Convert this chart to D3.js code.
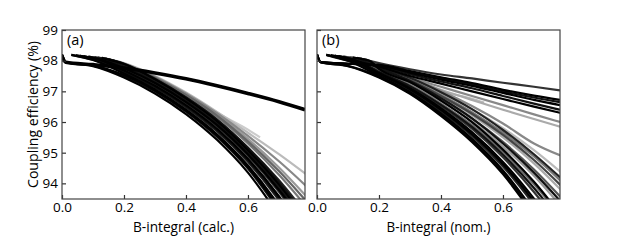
<!DOCTYPE html>
<html>
<head>
<meta charset="utf-8">
<script src="https://cdn.jsdelivr.net/npm/d3@7"></script>
<style>
  body { margin: 0; background: #fff; }
  svg { display: block; }
  text { font-family: "Open Sans", sans-serif; fill: #000; }
</style>
</head>
<body>
<svg id="chart" width="623" height="249"></svg>
<script>
// axis settings
const xTicks = [0.0, 0.2, 0.4, 0.6];
const yTicks = [94, 95, 96, 97, 98, 99];
const xDomain = [0, 0.784];
const yDomain = [93.49, 99];
const panelNames = ["(a)", "(b)"];
const xTitles = ["B-integral (calc.)", "B-integral (nom.)"];
const yTitle = "Coupling efficiency (%)";

// panel (a): bundle of curves [B, efficiency]
const curvesA = [
  [[0,98.2],[0.012,97.95],[0.1,97.82],[0.2,97.45],[0.3,96.93],[0.4,96.26],[0.5,95.42],[0.6,94.35],[0.7,92.95]],
  [[0,98.2],[0.012,97.95],[0.1,97.84],[0.2,97.5],[0.3,97.0],[0.4,96.34],[0.5,95.52],[0.6,94.48],[0.7,93.12]],
  [[0,98.2],[0.012,97.95],[0.1,97.85],[0.2,97.53],[0.3,97.03],[0.4,96.37],[0.5,95.56],[0.6,94.53],[0.7,93.2]],
  [[0.03,98.19],[0.1,98.02],[0.2,97.58],[0.3,97.06],[0.4,96.4],[0.5,95.6],[0.6,94.58],[0.7,93.28],[0.8,91.7]],
  [[0.03,98.19],[0.1,98.03],[0.2,97.62],[0.3,97.12],[0.4,96.48],[0.5,95.7],[0.6,94.7],[0.7,93.45],[0.8,91.95]],
  [[0.045,98.18],[0.11,98.03],[0.2,97.65],[0.3,97.15],[0.4,96.52],[0.5,95.74],[0.6,94.75],[0.7,93.52],[0.8,92.02]],
  [[0.058,98.16],[0.12,98.03],[0.2,97.68],[0.3,97.18],[0.4,96.55],[0.5,95.78],[0.6,94.8],[0.7,93.58],[0.8,92.1]],
  [[0.058,98.16],[0.12,98.03],[0.2,97.72],[0.3,97.24],[0.4,96.62],[0.5,95.86],[0.6,94.9],[0.7,93.72],[0.8,92.3]],
  [[0.07,98.14],[0.13,98.02],[0.2,97.75],[0.3,97.27],[0.4,96.65],[0.5,95.9],[0.6,94.94],[0.7,93.78],[0.8,92.4]],
  [[0.085,98.13],[0.14,98.02],[0.2,97.8],[0.3,97.3],[0.4,96.68],[0.5,95.93],[0.6,94.98],[0.7,93.83],[0.8,92.45]],
  [[0.085,98.13],[0.14,98.02],[0.2,97.82],[0.3,97.34],[0.4,96.74],[0.5,96.01],[0.6,95.08],[0.7,93.97],[0.8,92.65]],
  [[0.095,98.12],[0.15,98.0],[0.2,97.84],[0.3,97.36],[0.4,96.76],[0.5,96.04],[0.6,95.12],[0.7,94.04],[0.8,92.75]],
  [[0.105,98.11],[0.16,98.0],[0.2,97.86],[0.3,97.38],[0.4,96.79],[0.5,96.08],[0.6,95.17],[0.7,94.1],[0.8,92.85]],
  [[0.105,98.11],[0.16,98.0],[0.2,97.88],[0.3,97.42],[0.4,96.85],[0.5,96.17],[0.6,95.3],[0.7,94.28],[0.8,93.1]],
  [[0.115,98.1],[0.17,97.99],[0.2,97.89],[0.3,97.44],[0.4,96.88],[0.5,96.21],[0.6,95.37],[0.7,94.4],[0.8,93.28]],
  [[0.115,98.1],[0.17,97.99],[0.2,97.87],[0.3,97.36],[0.4,96.73],[0.5,95.98],[0.6,95.02],[0.7,93.88],[0.8,92.52]],
  [[0.128,98.09],[0.2,97.9],[0.3,97.46],[0.4,96.9],[0.5,96.25],[0.6,95.45],[0.7,94.52],[0.8,93.45]],
  [[0.128,98.09],[0.2,97.91],[0.3,97.48],[0.4,96.93],[0.5,96.29],[0.6,95.55],[0.7,94.72],[0.8,93.8]],
  [[0.128,98.09],[0.2,97.92],[0.3,97.5],[0.4,96.96],[0.5,96.33],[0.6,95.65],[0.7,94.95],[0.8,94.2]],
  [[0.128,98.09],[0.2,97.89],[0.3,97.39],[0.4,96.77],[0.5,96.03],[0.6,95.08],[0.7,93.96],[0.8,92.62]],
  [[0.14,98.07],[0.2,97.9],[0.3,97.47],[0.4,96.93],[0.5,96.3],[0.6,95.75],[0.639,95.5]],
  [[0.14,98.07],[0.2,97.9],[0.3,97.41],[0.4,96.8],[0.5,96.07],[0.6,95.14],[0.7,94.04],[0.8,92.72]]
];
const shadesA = ["#000","#111","#000","#000","#222","#111","#000","#333","#000","#111","#555","#444",
                 "#222","#777","#666","#222","#999","#888","#bbb","#000","#ccc","#111"];
const thickA = [[0,98.15],[0.012,97.95],[0.1,97.87],[0.2,97.76],[0.3,97.6],[0.4,97.41],[0.5,97.18],[0.6,96.93],[0.7,96.66],[0.784,96.4]];

// panel (b): lower group + upper group
const curvesB = [
  // lower group
  [[0,98.2],[0.012,97.95],[0.1,97.82],[0.2,97.45],[0.3,96.92],[0.4,96.2],[0.5,95.35],[0.6,94.3],[0.7,92.95]],
  [[0,98.2],[0.012,97.95],[0.1,97.83],[0.2,97.48],[0.3,96.95],[0.4,96.24],[0.5,95.4],[0.6,94.36],[0.7,93.02]],
  [[0.03,98.19],[0.1,98.0],[0.2,97.5],[0.3,96.98],[0.4,96.28],[0.5,95.45],[0.6,94.42],[0.7,93.1]],
  [[0.03,98.19],[0.1,98.02],[0.2,97.55],[0.3,97.04],[0.4,96.35],[0.5,95.55],[0.6,94.55],[0.7,93.3],[0.8,91.8]],
  [[0.045,98.18],[0.11,98.02],[0.2,97.57],[0.3,97.07],[0.4,96.4],[0.5,95.6],[0.6,94.62],[0.7,93.4],[0.8,91.95]],
  [[0.058,98.16],[0.12,98.02],[0.2,97.6],[0.3,97.1],[0.4,96.45],[0.5,95.67],[0.6,94.7],[0.7,93.5],[0.8,92.1]],
  [[0.058,98.16],[0.12,98.02],[0.2,97.62],[0.3,97.14],[0.4,96.52],[0.5,95.78],[0.6,94.85],[0.7,93.72],[0.8,92.4]],
  [[0.07,98.15],[0.13,98.01],[0.2,97.63],[0.3,97.17],[0.4,96.56],[0.5,95.84],[0.6,94.93],[0.7,93.85],[0.8,92.58]],
  [[0.085,98.13],[0.14,98.01],[0.2,97.65],[0.3,97.2],[0.4,96.6],[0.5,95.9],[0.6,95.02],[0.7,93.98],[0.8,92.75]],
  [[0.085,98.13],[0.14,98.01],[0.2,97.68],[0.3,97.25],[0.4,96.68],[0.5,96.02],[0.6,95.2],[0.7,94.25],[0.8,93.1]],
  [[0.105,98.11],[0.16,98.0],[0.2,97.7],[0.3,97.3],[0.4,96.76],[0.5,96.12],[0.6,95.35],[0.7,94.45],[0.8,93.4]],
  [[0.105,98.11],[0.16,98.0],[0.2,97.72],[0.3,97.33],[0.4,96.82],[0.5,96.22],[0.6,95.5],[0.7,94.65],[0.8,93.65]],
  [[0.115,98.1],[0.17,97.99],[0.2,97.74],[0.3,97.36],[0.4,96.85],[0.5,96.27],[0.6,95.58],[0.7,94.76],[0.8,93.8]],
  [[0.115,98.1],[0.17,97.99],[0.2,97.73],[0.3,97.3],[0.4,96.7],[0.5,96.0],[0.6,95.1],[0.7,94.05],[0.8,92.8]],
  [[0.128,98.09],[0.2,97.75],[0.3,97.38],[0.4,96.88],[0.5,96.32],[0.6,95.65],[0.7,94.88],[0.8,93.95]],
  [[0.128,98.09],[0.2,97.78],[0.3,97.42],[0.4,96.95],[0.5,96.42],[0.6,95.8],[0.7,95.08],[0.8,94.25]],
  [[0.128,98.09],[0.2,97.76],[0.3,97.34],[0.4,96.78],[0.5,96.12],[0.6,95.3],[0.7,94.35],[0.8,93.25]],
  [[0.14,98.07],[0.2,97.8],[0.3,97.46],[0.4,97.02],[0.5,96.52],[0.6,95.95],[0.7,95.3],[0.8,94.85]],
  [[0.14,98.07],[0.2,97.79],[0.3,97.44],[0.4,96.97],[0.5,96.42],[0.6,95.74],[0.7,94.95],[0.8,94.05]],
  // upper group
  [[0.128,98.09],[0.2,97.92],[0.3,97.72],[0.4,97.55],[0.5,97.42],[0.6,97.28],[0.7,97.15],[0.784,97.03]],
  [[0,98.2],[0.012,97.95],[0.1,97.9],[0.2,97.86],[0.3,97.66],[0.4,97.46],[0.5,97.27],[0.6,97.05],[0.7,96.86],[0.784,96.72]],
  [[0,98.2],[0.012,97.95],[0.1,97.9],[0.2,97.85],[0.3,97.64],[0.4,97.42],[0.5,97.22],[0.6,97.0],[0.7,96.8],[0.784,96.65]],
  [[0,98.2],[0.012,97.95],[0.1,97.9],[0.2,97.84],[0.3,97.61],[0.4,97.38],[0.5,97.18],[0.6,96.95],[0.7,96.72],[0.784,96.55]],
  [[0.03,98.19],[0.1,98.0],[0.2,97.82],[0.3,97.56],[0.4,97.32],[0.5,97.1],[0.6,96.85],[0.7,96.6],[0.784,96.4]],
  [[0.058,98.16],[0.12,98.0],[0.2,97.8],[0.3,97.5],[0.4,97.25],[0.5,97.0],[0.6,96.75],[0.7,96.5],[0.784,96.3]],
  [[0.085,98.13],[0.14,98.0],[0.2,97.78],[0.3,97.45],[0.4,97.15],[0.5,96.85],[0.6,96.55],[0.7,96.25],[0.784,96.0]],
  [[0.105,98.11],[0.16,97.98],[0.2,97.75],[0.3,97.4],[0.4,97.05],[0.5,96.72],[0.6,96.4],[0.7,96.1],[0.784,95.85]],
  [[0.14,98.07],[0.2,97.7],[0.3,97.2],[0.4,96.98],[0.5,96.76],[0.539,96.63]]
];
const shadesB = ["#000","#111","#000","#222","#000","#000","#333","#111","#666","#999","#555","#aaa","#444","#000","#777","#bbb","#111","#888","#222",
                 "#333","#000","#111","#000","#111","#000","#888","#aaa","#bbb"];

const svg = d3.select("#chart");
const panelLeft = [62, 317];
const plotTop = 30, plotW = 243, plotH = 169;

const x = d3.scaleLinear().domain(xDomain).range([0, plotW]);
const y = d3.scaleLinear().domain(yDomain).range([plotH, 0]);
const line = d3.line()
  .x(d => x(d[0]))
  .y(d => y(d[1]))
  .curve(d3.curveMonotoneX);

function drawPanel(i, curves, shades, thick) {
  const g = svg.append("g").attr("transform", "translate(" + panelLeft[i] + "," + plotTop + ")");

  g.append("clipPath").attr("id", "clip" + i)
    .append("rect").attr("width", plotW).attr("height", plotH);

  // lighter curves first so the dark ones sit on top
  const order = d3.range(curves.length)
    .sort((a, b) => d3.hsl(shades[b]).l - d3.hsl(shades[a]).l);

  const plot = g.append("g").attr("clip-path", "url(#clip" + i + ")");
  plot.selectAll("path.curve")
    .data(order)
    .enter()
    .append("path")
      .attr("class", "curve")
      .attr("d", k => line(curves[k]))
      .attr("fill", "none")
      .attr("stroke", k => shades[k])
      .attr("stroke-width", 2.2);

  if (thick) {
    plot.append("path")
      .attr("d", line(thick))
      .attr("fill", "none")
      .attr("stroke", "#000")
      .attr("stroke-width", 3.6);
  }

  // inward ticks
  const xAxis = g.append("g").attr("transform", "translate(0," + plotH + ")")
    .call(d3.axisBottom(x).tickValues(xTicks).tickSizeInner(-4).tickSizeOuter(0)
      .tickPadding(3).tickFormat(d3.format(".1f")));
  const yAxis = g.append("g")
    .call(d3.axisLeft(y).tickValues(yTicks).tickSizeInner(-4).tickSizeOuter(0)
      .tickPadding(4).tickFormat(i === 0 ? d3.format("d") : ""));
  [xAxis, yAxis].forEach(a => {
    a.select(".domain").remove();
    a.selectAll("line").attr("stroke", "#333").attr("stroke-width", 1.2);
    a.selectAll("text").style("font-size", "13.5px").style("font-family", "'Open Sans', sans-serif").attr("fill", "#000");
  });

  g.append("rect")
    .attr("width", plotW).attr("height", plotH)
    .attr("fill", "none").attr("stroke", "#444").attr("stroke-width", 1.2);

  g.append("text")
    .attr("x", 5).attr("y", 15)
    .style("font-size", "14.5px")
    .text(panelNames[i]);

  g.append("text")
    .attr("x", plotW / 2).attr("y", plotH + 33)
    .attr("text-anchor", "middle")
    .attr("textLength", i === 0 ? 101 : 104)
    .attr("lengthAdjust", "spacingAndGlyphs")
    .style("font-size", "14.5px")
    .text(xTitles[i]);
}

drawPanel(0, curvesA, shadesA, thickA);
drawPanel(1, curvesB, shadesB, null);

svg.append("text")
  .attr("transform", "translate(38," + (plotTop + plotH / 2) + ") rotate(-90)")
  .attr("text-anchor", "middle")
  .attr("textLength", 147)
  .attr("lengthAdjust", "spacingAndGlyphs")
  .style("font-size", "15px")
  .text(yTitle);
</script>
</body>
</html>
